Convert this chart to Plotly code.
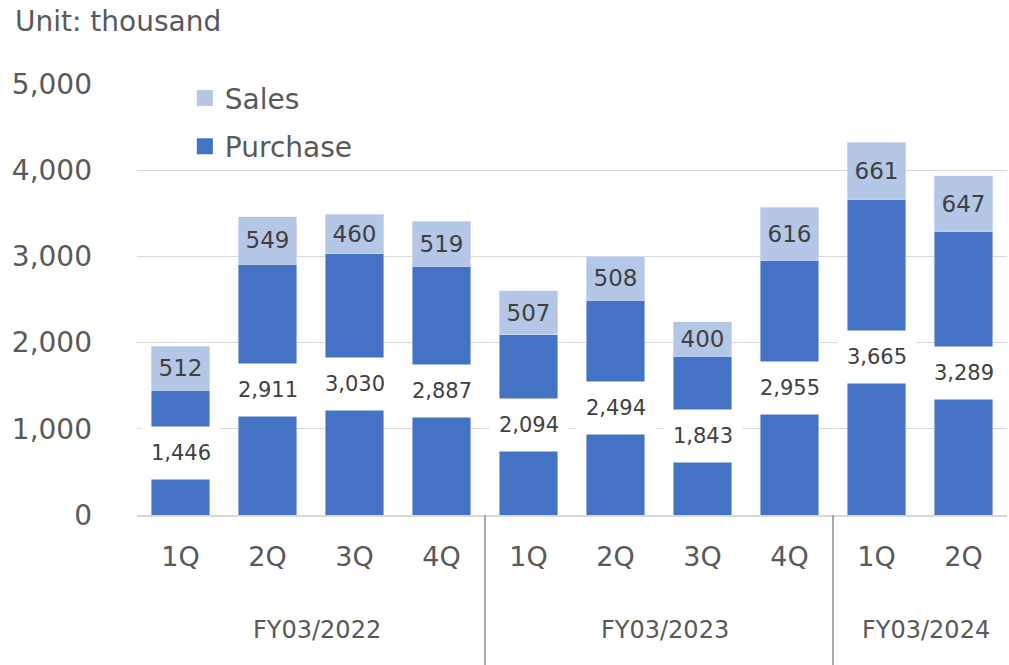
import plotly.graph_objects as go

quarters = ["1Q", "2Q", "3Q", "4Q", "1Q", "2Q", "3Q", "4Q", "1Q", "2Q"]
fiscal_years = ["FY03/2022", "FY03/2023", "FY03/2024"]
fy_quarter_counts = [4, 4, 2]
purchase = [1446, 2911, 3030, 2887, 2094, 2494, 1843, 2955, 3665, 3289]
sales = [512, 549, 460, 519, 507, 508, 400, 616, 661, 647]
y_ticks = [0, 1000, 2000, 3000, 4000, 5000]

FONT = "DejaVu Sans"
TXT = "#404040"
TICK = "#595959"
C_PUR = "#4472C4"
C_SAL = "#B4C7E7"
xs = list(range(len(quarters)))

fig = go.Figure()
fig.add_trace(go.Bar(
    x=xs, y=purchase, name="Purchase", marker_color=C_PUR,
    width=0.67, showlegend=False,
))
fig.add_trace(go.Bar(
    x=xs, y=sales, name="Sales", marker_color=C_SAL,
    width=0.67, showlegend=False,
    text=[f"{v:,}" for v in sales], textposition="inside",
    insidetextanchor="middle", constraintext="none",
    textfont=dict(family=FONT, size=23, color=TXT),
))
# legend entries (square swatches)
for name, col, grp, rank in [("Sales", C_SAL, "s", 1), ("Purchase", C_PUR, "p", 2)]:
    fig.add_trace(go.Scatter(
        x=[None], y=[None], mode="markers", name=name,
        marker=dict(symbol="square", size=20, color=col),
        legendgroup=grp, legendrank=rank, showlegend=True,
    ))

annotations = []
for x, v in zip(xs, purchase):
    annotations.append(dict(
        x=x, y=v / 2, xref="x", yref="y", text=f"{v:,}", showarrow=False,
        bgcolor="white", width=76, height=50,
        font=dict(family=FONT, size=21, color=TXT),
    ))

shapes = []
start = 0
for fy, n in zip(fiscal_years, fy_quarter_counts):
    center = start + (n - 1) / 2
    annotations.append(dict(
        x=center, y=-0.267, xref="x", yref="paper", text=fy, showarrow=False,
        xanchor="center", yanchor="middle", xshift=6,
        font=dict(family=FONT, size=24, color=TICK),
    ))
    end = start + n
    if end < len(quarters):
        shapes.append(dict(
            type="line", xref="x", yref="paper", x0=end - 0.5, x1=end - 0.5,
            y0=0, y1=-0.36, line=dict(color="#8C8C8C", width=1.5),
        ))
    start = end

annotations.append(dict(
    x=-0.142, y=1.144, xref="paper", yref="paper", text="Unit: thousand",
    showarrow=False, xanchor="left", yanchor="middle",
    font=dict(family=FONT, size=28, color=TICK),
))

fig.update_layout(
    barmode="stack",
    width=1009, height=665,
    margin=dict(l=137, r=2, t=84, b=150),
    plot_bgcolor="white", paper_bgcolor="white",
    showlegend=True,
    legend=dict(
        x=0.055, y=1.025, xanchor="left", yanchor="top",
        font=dict(family=FONT, size=28, color=TICK),
        tracegroupgap=9, bgcolor="rgba(0,0,0,0)", itemsizing="trace",
    ),
    annotations=annotations,
    shapes=shapes,
    xaxis=dict(
        tickvals=xs, ticktext=quarters, range=[-0.5, len(quarters) - 0.5],
        showgrid=False, zeroline=False, showline=True,
        linecolor="#D9D9D9", linewidth=1.5,
        tickfont=dict(family=FONT, size=27, color=TICK),
        ticks="", ticklabelstandoff=17,
    ),
    yaxis=dict(
        range=[0, 5000], tickvals=y_ticks, tickformat=",",
        showgrid=True, gridcolor="#D9D9D9", gridwidth=1.3,
        zeroline=False, showline=False,
        tickfont=dict(family=FONT, size=28, color=TICK),
        ticks="", ticklabelstandoff=44,
    ),
)

fig.write_html("out.html", config={"displayModeBar": False},
               post_script="document.body.style.margin='0';")
